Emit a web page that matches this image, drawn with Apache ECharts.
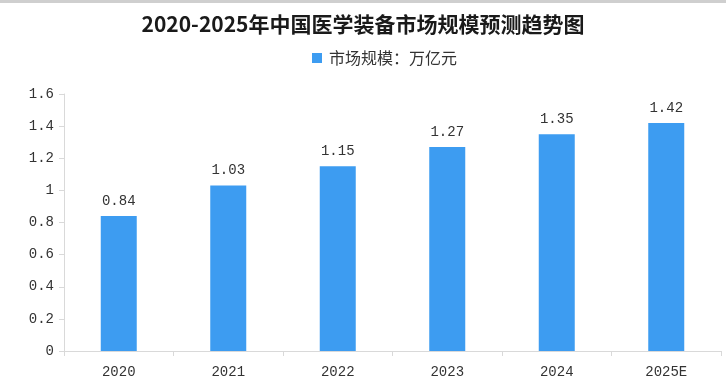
<!DOCTYPE html>
<html><head><meta charset="utf-8">
<script src="https://cdn.jsdelivr.net/npm/echarts@6/dist/echarts.min.js"></script>
<style>html,body{margin:0;padding:0;background:#fff}#c{width:726px;height:391px}</style>
</head><body><div id="c"></div>
<script>
const categories = ['2020','2021','2022','2023','2024','2025E'];
const values = [0.84, 1.03, 1.15, 1.27, 1.35, 1.42];
const seriesName = '市场规模：万亿元';
const titleText = '2020-2025年中国医学装备市场规模预测趋势图';
const numFont = "'Liberation Mono','Noto Sans CJK SC',monospace";
const chart = echarts.init(document.getElementById('c'));
chart.setOption({
  animation: false,
  backgroundColor: '#fff',
  graphic: [{type:'rect', left:0, top:0, shape:{width:726,height:3}, style:{fill:'#cfcfcf'}}],
  title: {text: titleText, left: 'center', top: 9,
    textStyle: {fontSize: 21, fontWeight: 'bold', color: '#1a1a1a', fontFamily: "'Noto Sans CJK SC'"}},
  legend: {data:[seriesName], left: 307, top: 45, icon: 'rect', itemWidth: 10, itemHeight: 10, itemGap: 6,
    textStyle: {fontSize: 16, color: '#333', fontFamily: "'Noto Sans CJK SC'", padding: [0,0,0,2]}},
  grid: {left: 64, right: 5, top: 94, bottom: 40},
  xAxis: {type:'category', data: categories,
    axisLine: {lineStyle: {color: '#d9d9d9'}},
    axisTick: {show: true, length: 5, lineStyle: {color: '#d9d9d9'}},
    axisLabel: {color: '#333', fontSize: 14, margin: 14, fontFamily: numFont}},
  yAxis: {type:'value', min: 0, max: 1.6, interval: 0.2,
    axisLine: {show: true, lineStyle: {color: '#d9d9d9'}},
    axisTick: {show: true, length: 5, lineStyle: {color: '#d9d9d9'}},
    splitLine: {show: false},
    axisLabel: {color: '#333', fontSize: 14, margin: 10, fontFamily: numFont,
      formatter: v => String(+v.toFixed(1))}},
  series: [{name: seriesName, type: 'bar', data: values, barWidth: 36,
    itemStyle: {color: '#3d9cf1'},
    label: {show: true, position: 'top', distance: 8, color: '#333', fontSize: 14, fontFamily: numFont,
      formatter: p => p.value.toFixed(2)}}]
});
</script></body></html>
